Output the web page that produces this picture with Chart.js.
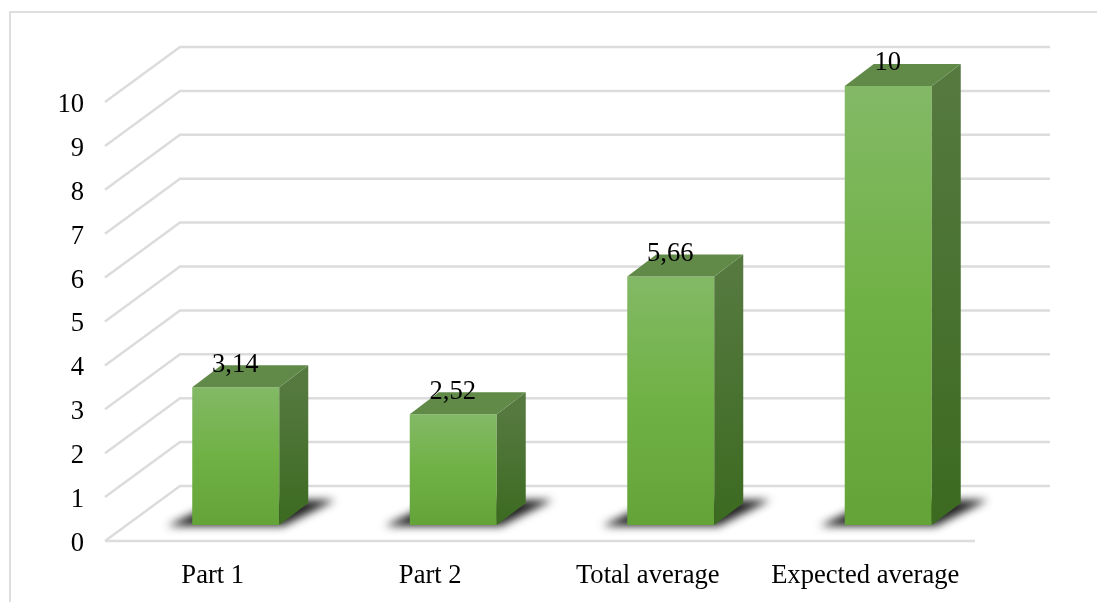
<!DOCTYPE html>
<html lang="en">
<head>
  <meta charset="UTF-8" />
  <title>Average scores</title>
  <script src="https://cdn.jsdelivr.net/npm/chart.js"></script>
  <style>
    html, body { margin: 0; background: #fff; overflow: hidden; }
    .frame { position: absolute; left: 9px; top: 11px; width: 1200px; height: 700px; border: 2px solid #dedede; }
    canvas { position: absolute; left: 0; top: 0; }
  </style>
</head>
<body>
  <div class="frame"></div>
  <canvas id="scoreChart" width="1097" height="602"></canvas>

  <script>
    const categories = ["Part 1", "Part 2", "Total average", "Expected average"];
    const scores = [3.14, 2.52, 5.66, 10];

    const GRID = "#dcdcdc";
    const FONT = "Liberation Serif";
    const FONT_SIZE = 26.6;
    // how far the back wall sits from the front of the floor
    const WALL_DX = 75, WALL_DY = -55;
    // bars stand part way into the floor
    const BAR_DX = 22, BAR_DY = -16;
    const DEPTH_X = 29, DEPTH_Y = -22;

    function frontGradient(ctx) {
      const chart = ctx.chart;
      const y = chart.scales.y;
      const top = y ? y.getPixelForValue(ctx.raw) : NaN;
      const bottom = y ? y.getPixelForValue(0) : NaN;
      // scales have no pixels yet on the first option pass
      if (!Number.isFinite(top) || !Number.isFinite(bottom)) return "#70b244";
      const g = chart.ctx.createLinearGradient(0, top, 0, bottom);
      g.addColorStop(0, "#83b966");
      g.addColorStop(0.5, "#70b145");
      g.addColorStop(1, "#64a337");
      return g;
    }

    function polygon(c, points, fill) {
      c.beginPath();
      points.forEach((p, i) => i ? c.lineTo(p[0], p[1]) : c.moveTo(p[0], p[1]));
      c.closePath();
      c.fillStyle = fill;
      c.fill();
    }

    const bars3d = {
      id: "bars3d",
      beforeDraw(chart) {
        // value labels sit a little below their wall line
        chart.scales.y.getLabelItems(chart.chartArea).forEach(item => { item.textOffset = 3; });
      },
      beforeDatasetsDraw(chart) {
        const c = chart.ctx, { x, y } = chart.scales;

        // back wall and side wall lines
        c.save();
        c.strokeStyle = GRID;
        c.lineWidth = 2.5;
        y.ticks.forEach(t => {
          const py = y.getPixelForValue(t.value);
          c.beginPath();
          c.moveTo(x.left, py);
          c.lineTo(x.left + WALL_DX, py + WALL_DY);
          c.lineTo(x.right + WALL_DX, py + WALL_DY);
          c.stroke();
        });
        const py0 = y.getPixelForValue(0);
        c.beginPath();
        c.moveTo(x.left, py0);
        c.lineTo(x.right, py0);
        c.stroke();
        c.restore();

        // floor shadows
        c.save();
        c.filter = "blur(4px)";
        chart.getDatasetMeta(0).data.forEach(bar => {
          const l = bar.x - bar.width / 2 + BAR_DX, r = l + bar.width, b = bar.base + BAR_DY;
          polygon(c, [
            [l - 25, b + 1], [r + 4, b + 1],
            [r + DEPTH_X + 27, b + DEPTH_Y - 3], [l + DEPTH_X, b + DEPTH_Y - 3]
          ], "rgba(10,10,10,0.9)");
        });
        c.restore();

        // front faces are drawn by the bar elements, shifted into the floor
        c.save();
        c.translate(BAR_DX, BAR_DY);
      },
      afterDatasetsDraw(chart) {
        const c = chart.ctx;
        c.restore();

        chart.getDatasetMeta(0).data.forEach((bar, i) => {
          const l = bar.x - bar.width / 2 + BAR_DX, r = l + bar.width;
          const t = bar.y + BAR_DY, b = bar.base + BAR_DY;

          const side = c.createLinearGradient(0, t, 0, b);
          side.addColorStop(0, "#55793f");
          side.addColorStop(1, "#3c6a20");
          polygon(c, [[r, t], [r + DEPTH_X, t + DEPTH_Y], [r + DEPTH_X, b + DEPTH_Y], [r, b]], side);
          polygon(c, [[l, t], [r, t], [r + DEPTH_X, t + DEPTH_Y], [l + DEPTH_X, t + DEPTH_Y]], "#618a49");

          c.save();
          c.font = FONT_SIZE + "px '" + FONT + "'";
          c.fillStyle = "#000";
          c.textAlign = "center";
          c.textBaseline = "middle";
          c.fillText(String(scores[i]).replace(".", ","), l + bar.width / 2 - 0.5, t - 22.5);
          c.restore();
        });
      }
    };

    new Chart(document.getElementById("scoreChart"), {
      type: "bar",
      data: {
        labels: categories,
        datasets: [{
          data: scores,
          backgroundColor: frontGradient,
          barPercentage: 0.4,
          categoryPercentage: 1,
          clip: false
        }]
      },
      options: {
        responsive: false,
        animation: false,
        layout: { padding: { top: 102, right: 122, left: 0, bottom: 0 } },
        plugins: { legend: { display: false }, tooltip: { enabled: false } },
        scales: {
          x: {
            grid: { display: false },
            border: { display: false },
            ticks: { color: "#000", font: { family: FONT, size: FONT_SIZE }, padding: 11, labelOffset: -1, maxRotation: 0, autoSkip: false },
            afterFit(scale) { scale.height = 61; }
          },
          y: {
            min: 0,
            max: 10,
            grid: { display: false },
            border: { display: false },
            ticks: { stepSize: 1, color: "#000", font: { family: FONT, size: FONT_SIZE }, padding: 13 },
            afterFit(scale) { scale.width = 105; }
          }
        }
      },
      plugins: [bars3d]
    });
  </script>
</body>
</html>
